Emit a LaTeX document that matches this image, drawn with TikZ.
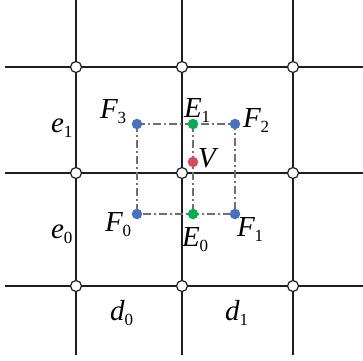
\documentclass[tikz,border=0pt]{standalone}
\usepackage{fontspec}
\setmainfont{Liberation Serif}
\newcommand{\lbl}[2]{{\fontsize{29}{29}\selectfont\itshape #1}\raisebox{-5pt}{\fontsize{17}{17}\selectfont #2}}
\definecolor{gridc}{HTML}{1E1E1E}
\definecolor{dashc}{HTML}{707070}
\definecolor{bluept}{HTML}{4472C4}
\definecolor{greenpt}{HTML}{00B050}
\definecolor{redpt}{HTML}{E0465A}
\tikzset{
  gridline/.style={draw=gridc, line width=1.5pt},
  vertex/.style={circle, draw=gridc, fill=white, line width=1.2pt, minimum size=11pt, inner sep=0pt},
  dashline/.style={draw=dashc, line width=1.2pt, dash pattern=on 8pt off 3pt on 2pt off 3pt},
  bdot/.style={circle, fill=bluept, minimum size=10.5pt, inner sep=0pt},
  gdot/.style={circle, fill=greenpt, minimum size=10.5pt, inner sep=0pt},
  rdot/.style={circle, fill=redpt, minimum size=10.5pt, inner sep=0pt},
  lab/.style={anchor=base west, inner sep=0pt, outer sep=0pt}
}
\begin{document}
\begin{tikzpicture}[x=1pt, y=-1pt]
\useasboundingbox (0,0) rectangle (363,360);
% grid lines
\coordinate (v1t) at (76,0);   \coordinate (v1b) at (76,355);
\coordinate (v2t) at (182,0);  \coordinate (v2b) at (182,355);
\coordinate (v3t) at (293,0);  \coordinate (v3b) at (293,355);
\coordinate (h1l) at (5,67);   \coordinate (h1r) at (363,67);
\coordinate (h2l) at (5,173);  \coordinate (h2r) at (363,173);
\coordinate (h3l) at (5,286);  \coordinate (h3r) at (363,286);
\draw[gridline] (v1t) -- (v1b);
\draw[gridline] (v2t) -- (v2b);
\draw[gridline] (v3t) -- (v3b);
\draw[gridline] (h1l) -- (h1r);
\draw[gridline] (h2l) -- (h2r);
\draw[gridline] (h3l) -- (h3r);
% points
\coordinate (F3c) at (137,124); \coordinate (E1c) at (193,124); \coordinate (F2c) at (235,124);
\coordinate (F0c) at (137,214); \coordinate (E0c) at (193,214); \coordinate (F1c) at (235,214);
\coordinate (Vc) at (193,162);
\draw[dashline] (F3c) -- (F2c) -- (F1c) -- (F0c) -- cycle;
\draw[dashline] (E1c) -- (E0c);
% vertices
\foreach \x/\i in {76/1,182/2,293/3}{
  \foreach \y/\j in {67/1,173/2,286/3}{
    \node[vertex] (n\i\j) at (\x,\y) {};
  }
}
\node[bdot] (F3) at (F3c) {};
\node[bdot] (F2) at (F2c) {};
\node[bdot] (F1) at (F1c) {};
\node[bdot] (F0) at (F0c) {};
\node[gdot] (E1) at (E1c) {};
\node[gdot] (E0) at (E0c) {};
\node[rdot] (V) at (Vc) {};
% labels
\node[lab] (lF3) at (100,118) {\lbl{F}{3}};
\node[lab] (lE1) at (184,117) {\lbl{E}{1}};
\node[lab] (lF2) at (243,127) {\lbl{F}{2}};
\node[lab] (lV)  at (198,167) {\lbl{V}{}};
\node[lab] (lF0) at (105,231) {\lbl{F}{0}};
\node[lab] (lE0) at (182,246) {\lbl{E}{0}};
\node[lab] (lF1) at (237,236) {\lbl{F}{1}};
\node[lab] (le1) at (51,132) {\lbl{e}{1}};
\node[lab] (le0) at (51,238) {\lbl{e}{0}};
\node[lab] (ld0) at (110,320) {\lbl{d}{0}};
\node[lab] (ld1) at (225,320) {\lbl{d}{1}};
\end{tikzpicture}
\end{document}
